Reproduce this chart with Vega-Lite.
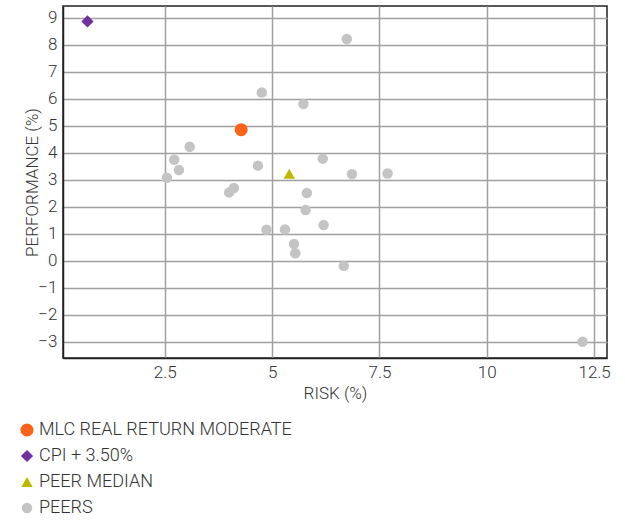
{
  "$schema": "https://vega.github.io/schema/vega-lite/v6.json",
  "autosize": "none",
  "width": 544,
  "height": 352,
  "padding": {"left": 63, "top": 6, "right": 18, "bottom": 164},
  "background": "white",
  "data": {
    "values": [
      {"series": "PEERS", "risk": 4.76, "perf": 6.23},
      {"series": "PEERS", "risk": 5.73, "perf": 5.80},
      {"series": "PEERS", "risk": 3.08, "perf": 4.22},
      {"series": "PEERS", "risk": 2.72, "perf": 3.74},
      {"series": "PEERS", "risk": 2.83, "perf": 3.36},
      {"series": "PEERS", "risk": 2.55, "perf": 3.07},
      {"series": "PEERS", "risk": 4.67, "perf": 3.52},
      {"series": "PEERS", "risk": 4.00, "perf": 2.53},
      {"series": "PEERS", "risk": 4.11, "perf": 2.69},
      {"series": "PEERS", "risk": 5.81, "perf": 2.51},
      {"series": "PEERS", "risk": 6.74, "perf": 8.21},
      {"series": "PEERS", "risk": 6.18, "perf": 3.78},
      {"series": "PEERS", "risk": 6.86, "perf": 3.20},
      {"series": "PEERS", "risk": 7.69, "perf": 3.23},
      {"series": "PEERS", "risk": 5.78, "perf": 1.88},
      {"series": "PEERS", "risk": 4.87, "perf": 1.15},
      {"series": "PEERS", "risk": 5.30, "perf": 1.16},
      {"series": "PEERS", "risk": 5.51, "perf": 0.62},
      {"series": "PEERS", "risk": 5.54, "perf": 0.28},
      {"series": "PEERS", "risk": 6.20, "perf": 1.32},
      {"series": "PEERS", "risk": 6.67, "perf": -0.19},
      {"series": "PEERS", "risk": 12.23, "perf": -3.0},
      {"series": "PEER MEDIAN", "risk": 5.40, "perf": 3.22},
      {"series": "CPI + 3.50%", "risk": 0.70, "perf": 8.86},
      {"series": "MLC REAL RETURN MODERATE", "risk": 4.28, "perf": 4.85}
    ]
  },
  "mark": {"type": "point", "filled": true, "opacity": 1},
  "encoding": {
    "x": {
      "field": "risk", "type": "quantitative", "title": "RISK (%)",
      "scale": {"domain": [0.13, 12.8], "nice": false, "zero": false},
      "axis": {"values": [2.5, 5, 7.5, 10, 12.5], "labelExpr": "datum.value"}
    },
    "y": {
      "field": "perf", "type": "quantitative", "title": "PERFORMANCE (%)",
      "scale": {"domain": [-3.6, 9.43], "nice": false, "zero": false},
      "axis": {"values": [-3, -2, -1, 0, 1, 2, 3, 4, 5, 6, 7, 8, 9], "titleX": -22}
    },
    "color": {
      "field": "series", "type": "ordinal", "title": null,
      "scale": {
        "domain": ["MLC REAL RETURN MODERATE", "CPI + 3.50%", "PEER MEDIAN", "PEERS"],
        "range": ["#ff6319", "#7030a0", "#bfb800", "#c4c4c4"]
      },
      "legend": {"orient": "none", "legendX": -45, "legendY": 415}
    },
    "shape": {
      "field": "series", "type": "ordinal",
      "scale": {
        "domain": ["MLC REAL RETURN MODERATE", "CPI + 3.50%", "PEER MEDIAN", "PEERS"],
        "range": ["circle", "diamond", "triangle-up", "circle"]
      }
    },
    "size": {
      "field": "series", "type": "ordinal",
      "scale": {
        "domain": ["MLC REAL RETURN MODERATE", "CPI + 3.50%", "PEER MEDIAN", "PEERS"],
        "range": [170, 110, 150, 65]
      }
    }
  },
  "config": {
    "font": "Roboto",
    "view": {"stroke": "#222222", "strokeWidth": 1.5},
    "axis": {
      "grid": true,
      "gridColor": "#a0a0a0",
      "gridWidth": 1.5,
      "gridOpacity": 1,
      "domainColor": "#222222",
      "domainWidth": 1.5,
      "ticks": false,
      "labelFont": "Roboto",
      "labelFontWeight": 300,
      "labelFontSize": 17,
      "labelColor": "#333333",
      "labelPadding": 6,
      "titleFont": "Roboto",
      "titleFontWeight": 300,
      "titleFontSize": 17,
      "titleColor": "#333333"
    },
    "axisX": {"titlePadding": 5},
    "axisY": {"titlePadding": 2},
    "legend": {
      "labelFont": "Roboto",
      "labelFontWeight": 300,
      "labelFontSize": 18,
      "labelColor": "#333333",
      "labelLimit": 0,
      "rowPadding": 8,
      "symbolOffset": 0,
      "labelOffset": 3,
      "symbolStrokeWidth": 0
    }
  }
}
